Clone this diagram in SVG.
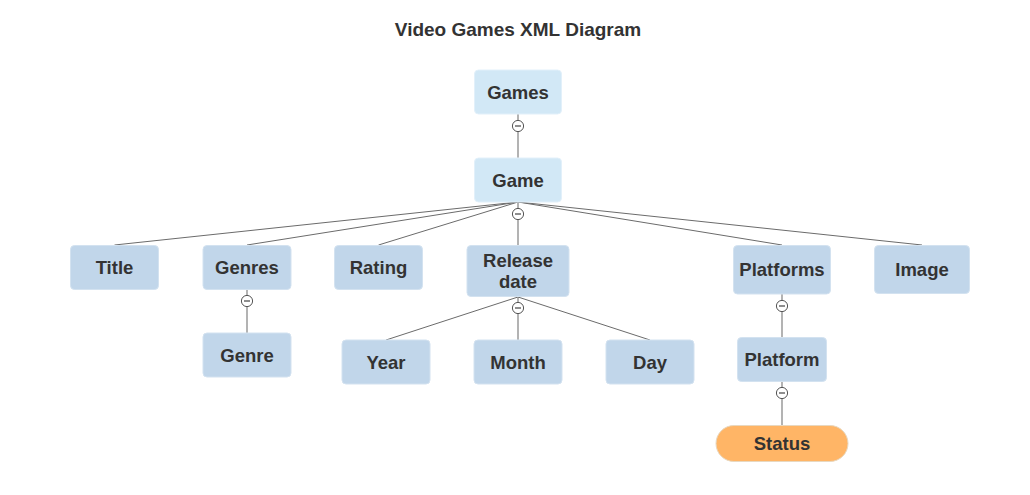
<svg xmlns="http://www.w3.org/2000/svg" width="1030" height="495" viewBox="0 0 1030 495">
<style>
.bg{fill:#ffffff}
.title{font-family:"Liberation Sans",Arial,sans-serif;font-weight:bold;font-size:19px;fill:#333333}
.lbl{font-family:"Liberation Sans",Arial,sans-serif;font-weight:bold;font-size:18.5px;fill:#333333;text-anchor:middle}
.top{fill:#d2e8f6;stroke:#e2f0fa;stroke-width:1}
.node{fill:#c1d6ea;stroke:#d3e2f0;stroke-width:1}
.status{fill:#ffb566;stroke:#e8d8c0;stroke-width:1}
.edge{stroke:#6b6b6b;stroke-width:1;fill:none}
.vedge{stroke:#8a8a8a;stroke-width:1.3;fill:none}
.tog{fill:#ffffff;stroke:#555555;stroke-width:1}
.togm{stroke:#444444;stroke-width:1.2}
</style>
<rect class="bg" x="0" y="0" width="1030" height="495"/>
<text class="title" x="518" y="36" text-anchor="middle">Video Games XML Diagram</text>
<g id="connectors">
<line class="vedge" x1="518" y1="114" x2="518" y2="158"/>
<line class="edge" x1="518" y1="202" x2="114.5" y2="245"/>
<line class="edge" x1="518" y1="202" x2="247" y2="245"/>
<line class="edge" x1="518" y1="202" x2="378.5" y2="245"/>
<line class="vedge" x1="518" y1="202" x2="518" y2="245"/>
<line class="edge" x1="518" y1="202" x2="782" y2="245"/>
<line class="edge" x1="518" y1="202" x2="922" y2="245"/>
<line class="vedge" x1="247" y1="290" x2="247" y2="333"/>
<line class="edge" x1="518" y1="297" x2="386" y2="340"/>
<line class="vedge" x1="518" y1="297" x2="518" y2="340"/>
<line class="edge" x1="518" y1="297" x2="650" y2="340"/>
<line class="vedge" x1="782" y1="294" x2="782" y2="337"/>
<line class="vedge" x1="782" y1="381" x2="782" y2="425"/>
<g id="toggles">
<circle class="tog" cx="518" cy="126" r="5.6"/><line class="togm" x1="515" y1="126" x2="521" y2="126"/>
<circle class="tog" cx="518" cy="214" r="5.6"/><line class="togm" x1="515" y1="214" x2="521" y2="214"/>
<circle class="tog" cx="247" cy="301" r="5.6"/><line class="togm" x1="244" y1="301" x2="250" y2="301"/>
<circle class="tog" cx="518" cy="308" r="5.6"/><line class="togm" x1="515" y1="308" x2="521" y2="308"/>
<circle class="tog" cx="782" cy="306" r="5.6"/><line class="togm" x1="779" y1="306" x2="785" y2="306"/>
<circle class="tog" cx="782" cy="393" r="5.6"/><line class="togm" x1="779" y1="393" x2="785" y2="393"/>
</g>
</g>
<g id="games"><rect class="top" x="474.5" y="70" width="87" height="44" rx="4"/><text class="lbl" x="518" y="99">Games</text></g>
<g id="game"><rect class="top" x="474.5" y="158" width="87" height="44" rx="4"/><text class="lbl" x="518" y="187">Game</text></g>
<g id="title"><rect class="node" x="70.5" y="245.5" width="88" height="44" rx="4"/><text class="lbl" x="114.5" y="274">Title</text></g>
<g id="genres"><rect class="node" x="203" y="245.5" width="88" height="44" rx="4"/><text class="lbl" x="247" y="274">Genres</text></g>
<g id="genre"><rect class="node" x="203" y="333" width="88" height="44" rx="4"/><text class="lbl" x="247" y="361.5">Genre</text></g>
<g id="rating"><rect class="node" x="334.5" y="245.5" width="88" height="44" rx="4"/><text class="lbl" x="378.5" y="274">Rating</text></g>
<g id="release-date"><rect class="node" x="467" y="245.5" width="102" height="51" rx="4"/><text class="lbl" x="518" y="267">Release</text><text class="lbl" x="518" y="288">date</text></g>
<g id="year"><rect class="node" x="342" y="340" width="88" height="44" rx="4"/><text class="lbl" x="386" y="368.5">Year</text></g>
<g id="month"><rect class="node" x="474" y="340" width="88" height="44" rx="4"/><text class="lbl" x="518" y="368.5">Month</text></g>
<g id="day"><rect class="node" x="606" y="340" width="88" height="44" rx="4"/><text class="lbl" x="650" y="368.5">Day</text></g>
<g id="platforms"><rect class="node" x="733.5" y="245.5" width="97" height="48.5" rx="4"/><text class="lbl" x="782" y="276">Platforms</text></g>
<g id="platform"><rect class="node" x="737.5" y="337.5" width="89" height="44" rx="4"/><text class="lbl" x="782" y="366">Platform</text></g>
<g id="image"><rect class="node" x="874.5" y="245.5" width="95" height="48" rx="4"/><text class="lbl" x="922" y="276">Image</text></g>
<g id="status"><rect class="status" x="716" y="425.5" width="132" height="36" rx="18"/><text class="lbl" x="782" y="450">Status</text></g>
</svg>
